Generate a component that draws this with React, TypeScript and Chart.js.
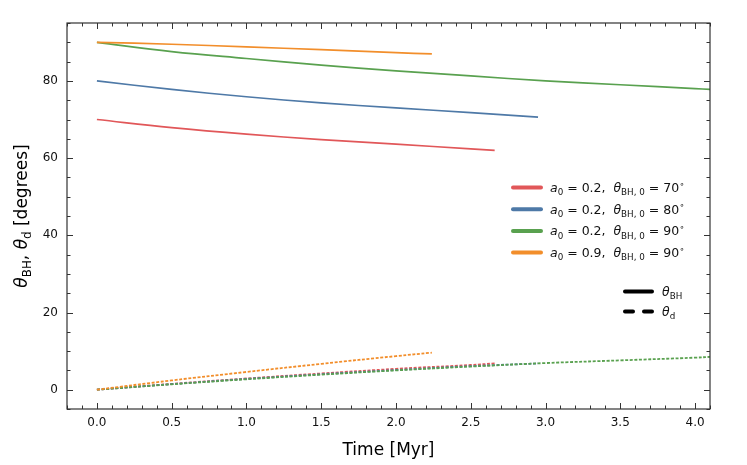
import { useEffect, useRef } from "react";
import { Chart, registerables, type Plugin } from "chart.js";

Chart.register(...registerables);

const FONT = "DejaVu Sans";
const INK = "#333333";

// time [Myr] and angles [deg]
const timeRed = [0, 0.5, 1.0, 1.5, 2.0, 2.5, 2.66];
const thetaBHRed = [70, 67.9, 66.2, 64.8, 63.6, 62.4, 62.0];
const thetaDRed = [0, 1.5, 2.9, 4.2, 5.4, 6.4, 6.8];

const timeBlue = [0, 0.5, 1.0, 1.5, 2.0, 2.5, 2.95];
const thetaBHBlue = [80, 77.8, 75.9, 74.3, 73.0, 71.8, 70.6];
const thetaDBlue = [0, 1.45, 2.8, 4.0, 5.1, 6.1, 6.8];

const timeGreen = [0, 0.5, 1.0, 1.5, 2.0, 2.5, 3.0, 3.5, 4.0, 4.1];
const thetaBHGreen = [90, 87.6, 85.8, 84.1, 82.6, 81.3, 80.0, 79.0, 78.0, 77.8];
const thetaDGreen = [0, 1.4, 2.7, 3.9, 5.0, 6.0, 6.9, 7.6, 8.3, 8.5];

const timeOrange = [0, 0.5, 1.0, 1.5, 2.0, 2.24];
const thetaBHOrange = [90, 89.5, 88.8, 88.1, 87.3, 87.0];
const thetaDOrange = [0, 2.4, 4.6, 6.7, 8.7, 9.6];

const runA0 = ["0.2", "0.2", "0.2", "0.9"];
const runTheta0 = ["70", "80", "90", "90"];
const runColors = ["#e15759", "#4e79a7", "#59a14f", "#f28e2b"];

const xTicks = [0, 0.5, 1.0, 1.5, 2.0, 2.5, 3.0, 3.5, 4.0];
const yTicks = [0, 20, 40, 60, 80];

type Seg = { t: string; it?: boolean; sub?: boolean; sup?: boolean };

function segFont(s: Seg, size: number) {
    const fs = s.sub || s.sup ? size * 0.7 : size;
    return `${s.it ? "italic " : ""}${fs}px "${FONT}"`;
}

function richWidth(ctx: CanvasRenderingContext2D, segs: Seg[], size: number) {
    let w = 0;
    for (const s of segs) {
        ctx.font = segFont(s, size);
        w += ctx.measureText(s.t).width;
    }
    return w;
}

function drawRich(ctx: CanvasRenderingContext2D, segs: Seg[], x: number, y: number, size: number) {
    let cx = x;
    ctx.textBaseline = "alphabetic";
    ctx.textAlign = "left";
    for (const s of segs) {
        ctx.font = segFont(s, size);
        const dy = s.sub ? size * 0.25 : s.sup ? -size * 0.42 : 0;
        ctx.fillText(s.t, cx, y + dy);
        cx += ctx.measureText(s.t).width;
    }
}

const pts = (t: number[], v: number[]) => t.map((x, i) => ({ x, y: v[i] }));

const decor: Plugin<"line"> = {
    id: "decor",
    afterDraw(chart) {
        const { ctx, chartArea: a } = chart;
        const xs = chart.scales.x;
        const ys = chart.scales.y;
        ctx.save();

        // ticks, inward on all four sides
        ctx.strokeStyle = INK;
        ctx.lineWidth = 1;
        ctx.beginPath();
        for (let i = -2; i <= 41; i++) {
            const v = i / 10;
            const px = Math.round(xs.getPixelForValue(v)) + 0.5;
            const len = i % 5 === 0 ? 6 : 3.5;
            ctx.moveTo(px, a.bottom); ctx.lineTo(px, a.bottom - len);
            ctx.moveTo(px, a.top); ctx.lineTo(px, a.top + len);
        }
        for (let v = -5; v <= 95; v += 5) {
            const py = Math.round(ys.getPixelForValue(v)) + 0.5;
            const len = v % 20 === 0 ? 6 : 3.5;
            ctx.moveTo(a.left, py); ctx.lineTo(a.left + len, py);
            ctx.moveTo(a.right, py); ctx.lineTo(a.right - len, py);
        }
        ctx.stroke();

        // frame
        ctx.lineWidth = 1.2;
        ctx.strokeRect(a.left, a.top, a.right - a.left, a.bottom - a.top);

        // run legend
        ctx.fillStyle = "#111";
        ctx.lineCap = "round";
        runColors.forEach((c, i) => {
            const y = 187.5 + i * 21.7;
            ctx.strokeStyle = c;
            ctx.lineWidth = 4;
            ctx.beginPath();
            ctx.moveTo(513, y); ctx.lineTo(541, y);
            ctx.stroke();
            drawRich(ctx, [
                { t: "a", it: true }, { t: "0", sub: true },
                { t: ` = ${runA0[i]},  ` },
                { t: "θ", it: true }, { t: "BH, 0", sub: true },
                { t: ` = ${runTheta0[i]}` }, { t: "∘", sup: true },
            ], 550, y + 4.5, 12.5);
        });

        // line style legend
        ctx.strokeStyle = "#000";
        ctx.lineWidth = 4;
        ctx.beginPath();
        ctx.moveTo(625, 291.5); ctx.lineTo(652, 291.5);
        ctx.moveTo(625, 311.5); ctx.lineTo(633, 311.5);
        ctx.moveTo(644, 311.5); ctx.lineTo(652, 311.5);
        ctx.stroke();
        drawRich(ctx, [{ t: "θ", it: true }, { t: "BH", sub: true }], 662, 296, 12.5);
        drawRich(ctx, [{ t: "θ", it: true }, { t: "d", sub: true }], 662, 316, 12.5);

        // axis titles
        ctx.fillStyle = "#000";
        const xt: Seg[] = [{ t: "Time [Myr]" }];
        const xw = richWidth(ctx, xt, 17);
        drawRich(ctx, xt, (a.left + a.right) / 2 - xw / 2, 455, 17);

        const yt: Seg[] = [
            { t: "θ", it: true }, { t: "BH", sub: true }, { t: ", " },
            { t: "θ", it: true }, { t: "d", sub: true }, { t: " [degrees]" },
        ];
        const yw = richWidth(ctx, yt, 17);
        ctx.translate(27, (a.top + a.bottom) / 2);
        ctx.rotate(-Math.PI / 2);
        drawRich(ctx, yt, -yw / 2, 0, 17);

        ctx.restore();
    },
};

export default function App() {
    const canvasRef = useRef<HTMLCanvasElement>(null);
    const chartRef = useRef<Chart<"line"> | null>(null);

    useEffect(() => {
        document.body.style.margin = "0";
        if (!canvasRef.current) return;
        if (chartRef.current) chartRef.current.destroy();

        const runs = [
            { t: timeRed, bh: thetaBHRed, d: thetaDRed },
            { t: timeBlue, bh: thetaBHBlue, d: thetaDBlue },
            { t: timeGreen, bh: thetaBHGreen, d: thetaDGreen },
            { t: timeOrange, bh: thetaBHOrange, d: thetaDOrange },
        ];

        const datasets = runs.flatMap((r, i) => [
            {
                label: `bh${i}`,
                data: pts(r.t, r.bh),
                borderColor: runColors[i],
                borderWidth: 1.7,
                pointRadius: 0,
                tension: 0.4,
                order: 10 - i,
            },
            {
                label: `d${i}`,
                data: pts(r.t, r.d),
                borderColor: runColors[i],
                borderWidth: 1.8,
                borderDash: [3, 1.6],
                pointRadius: 0,
                tension: 0.4,
                order: 10 - i,
            },
        ]);

        const tickFont = { family: FONT, size: 12 };

        chartRef.current = new Chart(canvasRef.current, {
            type: "line",
            data: { datasets },
            options: {
                responsive: false,
                animation: false,
                layout: { padding: { left: 0, right: 37, top: 23, bottom: 0 } },
                plugins: { legend: { display: false }, tooltip: { enabled: false } },
                scales: {
                    x: {
                        type: "linear",
                        min: -0.2,
                        max: 4.1,
                        grid: { display: false, drawTicks: false },
                        border: { display: false },
                        ticks: { font: tickFont, color: "#111", padding: 7, callback: v => Number(v).toFixed(1) },
                        afterBuildTicks: s => { s.ticks = xTicks.map(value => ({ value })); },
                        afterFit: s => { s.height = 56; },
                    },
                    y: {
                        type: "linear",
                        min: -5,
                        max: 95,
                        grid: { display: false, drawTicks: false },
                        border: { display: false },
                        ticks: { font: tickFont, color: "#111", padding: 9, callback: v => String(v) },
                        afterBuildTicks: s => { s.ticks = yTicks.map(value => ({ value })); },
                        afterFit: s => { s.width = 67; },
                    },
                },
            },
            plugins: [decor],
        });

        return () => { chartRef.current?.destroy(); };
    }, []);

    return (
        <div style={{ width: 747, height: 465, background: "#fff" }}>
            <canvas ref={canvasRef} width={747} height={465} />
        </div>
    );
}
